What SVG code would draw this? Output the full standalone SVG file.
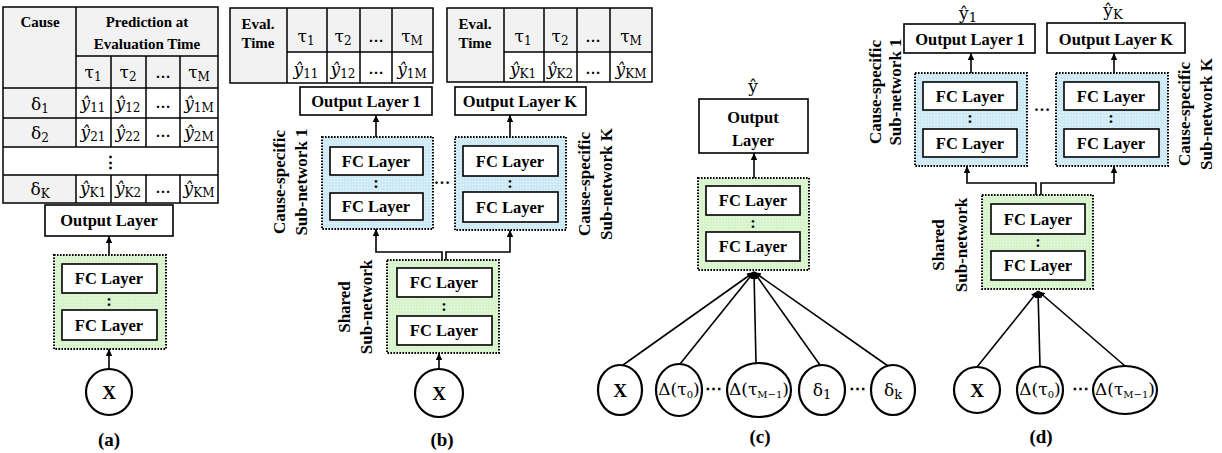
<svg xmlns="http://www.w3.org/2000/svg" width="1222" height="453" viewBox="0 0 1222 453">
<style>
.bx{fill:#fff;stroke:#000;stroke-width:1.6}
.gr{fill:url(#pg);stroke:#000;stroke-width:2;stroke-dasharray:1.6 1.4}
.bl{fill:url(#pb);stroke:#000;stroke-width:2;stroke-dasharray:1.6 1.4}
.cir{fill:#fff;stroke:#000;stroke-width:2.2}
.gc{fill:#f2f2f2}
.tl{stroke:#000;stroke-width:1.5;fill:none}
.ln{stroke:#000;stroke-width:1.6;fill:none}
.t{font-family:"Liberation Serif",serif;font-weight:bold;font-size:16.5px;text-anchor:middle;fill:#000}
.ts{font-family:"Liberation Serif",serif;font-weight:bold;font-size:15px;text-anchor:middle;fill:#000}
.vt{font-family:"Liberation Serif",serif;font-weight:bold;font-size:17px;text-anchor:middle;fill:#000}
.m{font-family:"DejaVu Serif",serif;font-size:17px;text-anchor:middle;fill:#000}
.cap{font-family:"Liberation Serif",serif;font-weight:bold;font-size:19px;text-anchor:middle;fill:#000}
</style>
<defs>
<marker id="arr" markerWidth="8" markerHeight="8" refX="7" refY="4" orient="auto" markerUnits="userSpaceOnUse"><path d="M0,0.8 L7,4 L0,7.2 z" fill="#000"/></marker>
<pattern id="pg" width="3" height="3" patternUnits="userSpaceOnUse"><rect width="3" height="3" fill="#d6f3cc"/><rect x="1" y="1" width="1" height="1" fill="#f2fcef"/></pattern>
<pattern id="pb" width="3" height="3" patternUnits="userSpaceOnUse"><rect width="3" height="3" fill="#cde9f6"/><rect x="1" y="1" width="1" height="1" fill="#eef8fd"/></pattern>
</defs>

<!-- ===== (a) ===== -->
<g id="table-a">
<rect x="3" y="7" width="215" height="196" fill="#fff"/>
<rect class="gc" x="3" y="7" width="73" height="140"/>
<rect class="gc" x="3" y="175" width="73" height="28"/>
<rect class="gc" x="76" y="7" width="142" height="81"/>
<rect class="tl" x="3" y="7" width="215" height="196"/>
<path class="tl" d="M76,7V147M76,175V203M76,56H218M3,88H218M3,118H218M3,147H218M3,175H218M111,56V147M146,56V147M180,56V147M111,175V203M146,175V203M180,175V203"/>
<text class="ts" x="40" y="27">Cause</text>
<text class="ts" x="147" y="27">Prediction at</text>
<text class="ts" x="147" y="49">Evaluation Time</text>
<text class="m" x="93" y="78">τ<tspan font-size="12" dy="3">1</tspan></text>
<text class="m" x="128" y="78">τ<tspan font-size="12" dy="3">2</tspan></text>
<text class="ts" x="163" y="78">…</text>
<text class="m" x="199" y="78">τ<tspan font-size="12" dy="3">M</tspan></text>
<text class="m" x="40" y="110">δ<tspan font-size="12" dy="3">1</tspan></text>
<text class="m" x="40" y="139">δ<tspan font-size="12" dy="3">2</tspan></text>
<text class="m" x="40" y="195">δ<tspan font-size="12" dy="3">K</tspan></text>
<text class="m" x="93" y="109"><tspan font-style="italic">ŷ</tspan><tspan font-size="12" dy="3">11</tspan></text>
<text class="m" x="128" y="109"><tspan font-style="italic">ŷ</tspan><tspan font-size="12" dy="3">12</tspan></text>
<text class="ts" x="163" y="108" font-size="12">…</text>
<text class="m" x="199" y="109"><tspan font-style="italic">ŷ</tspan><tspan font-size="12" dy="3">1M</tspan></text>
<text class="m" x="93" y="138"><tspan font-style="italic">ŷ</tspan><tspan font-size="12" dy="3">21</tspan></text>
<text class="m" x="128" y="138"><tspan font-style="italic">ŷ</tspan><tspan font-size="12" dy="3">22</tspan></text>
<text class="ts" x="163" y="137" font-size="12">…</text>
<text class="m" x="199" y="138"><tspan font-style="italic">ŷ</tspan><tspan font-size="12" dy="3">2M</tspan></text>
<text class="t" x="110" y="168">⋮</text>
<text class="m" x="93" y="194"><tspan font-style="italic">ŷ</tspan><tspan font-size="12" dy="3">K1</tspan></text>
<text class="m" x="128" y="194"><tspan font-style="italic">ŷ</tspan><tspan font-size="12" dy="3">K2</tspan></text>
<text class="ts" x="163" y="193" font-size="12">…</text>
<text class="m" x="199" y="194"><tspan font-style="italic">ŷ</tspan><tspan font-size="12" dy="3">KM</tspan></text>
</g>
<g id="out-a"><rect class="bx" x="45" y="205" width="128" height="31"/><text class="t" x="109" y="226">Output Layer</text></g>
<g id="shared-a">
<rect class="gr" x="54" y="255" width="112" height="94"/>
<rect class="bx" x="62" y="264" width="95" height="29"/><text class="t" x="109" y="284">FC Layer</text>
<text class="t" x="109" y="306">:</text>
<rect class="bx" x="62" y="310" width="95" height="30"/><text class="t" x="109" y="331">FC Layer</text>
</g>
<g id="x-a"><circle class="cir" cx="109" cy="392" r="23"/><text class="cap" x="109" y="399">X</text></g>
<text class="cap" x="109" y="446">(a)</text>

<!-- ===== (b) ===== -->
<g id="table-b1">
<rect class="gc" x="230" y="8" width="203" height="44"/>
<rect class="gc" x="230" y="8" width="57" height="75"/>
<rect x="287" y="52" width="146" height="31" fill="#fff"/>
<rect class="tl" x="230" y="8" width="203" height="75"/>
<path class="tl" d="M287,8V83M287,52H433M327,8V83M360,8V83M392,8V83"/>
<text class="ts" x="258" y="29">Eval.</text>
<text class="ts" x="258" y="48">Time</text>
<text class="m" x="306" y="42">τ<tspan font-size="12" dy="3">1</tspan></text>
<text class="m" x="343" y="42">τ<tspan font-size="12" dy="3">2</tspan></text>
<text class="ts" x="376" y="42">…</text>
<text class="m" x="412" y="42">τ<tspan font-size="12" dy="3">M</tspan></text>
<text class="m" x="306" y="75"><tspan font-style="italic">ŷ</tspan><tspan font-size="12" dy="3">11</tspan></text>
<text class="m" x="343" y="75"><tspan font-style="italic">ŷ</tspan><tspan font-size="12" dy="3">12</tspan></text>
<text class="ts" x="376" y="74" font-size="12">…</text>
<text class="m" x="412" y="75"><tspan font-style="italic">ŷ</tspan><tspan font-size="12" dy="3">1M</tspan></text>
</g>
<g id="table-b2">
<rect class="gc" x="447" y="8" width="205" height="44"/>
<rect class="gc" x="447" y="8" width="57" height="74"/>
<rect x="504" y="52" width="148" height="30" fill="#fff"/>
<rect class="tl" x="447" y="8" width="205" height="74"/>
<path class="tl" d="M504,8V82M504,52H652M544,8V82M577,8V82M610,8V82"/>
<text class="ts" x="475" y="29">Eval.</text>
<text class="ts" x="475" y="48">Time</text>
<text class="m" x="523" y="42">τ<tspan font-size="12" dy="3">1</tspan></text>
<text class="m" x="560" y="42">τ<tspan font-size="12" dy="3">2</tspan></text>
<text class="ts" x="593" y="42">…</text>
<text class="m" x="631" y="42">τ<tspan font-size="12" dy="3">M</tspan></text>
<text class="m" x="523" y="75"><tspan font-style="italic">ŷ</tspan><tspan font-size="12" dy="3">K1</tspan></text>
<text class="m" x="560" y="75"><tspan font-style="italic">ŷ</tspan><tspan font-size="12" dy="3">K2</tspan></text>
<text class="ts" x="593" y="74" font-size="12">…</text>
<text class="m" x="631" y="75"><tspan font-style="italic">ŷ</tspan><tspan font-size="12" dy="3">KM</tspan></text>
</g>
<g id="out-b1"><rect class="bx" x="300" y="87" width="132" height="28"/><text class="t" x="366" y="107">Output Layer 1</text></g>
<g id="out-bK"><rect class="bx" x="455" y="87" width="131" height="28"/><text class="t" x="520" y="107">Output Layer K</text></g>
<g id="cs-b1">
<rect class="bl" x="322" y="137" width="111" height="92"/>
<rect class="bx" x="330" y="147" width="93" height="28"/><text class="t" x="376" y="167">FC Layer</text>
<text class="t" x="376" y="188">:</text>
<rect class="bx" x="330" y="193" width="93" height="27"/><text class="t" x="376" y="212">FC Layer</text>
</g>
<text class="t" x="442" y="184">…</text>
<g id="cs-bK">
<rect class="bl" x="455" y="137" width="111" height="93"/>
<rect class="bx" x="463" y="146" width="95" height="30"/><text class="t" x="510" y="167">FC Layer</text>
<text class="t" x="510" y="188">:</text>
<rect class="bx" x="463" y="192" width="95" height="30"/><text class="t" x="510" y="213">FC Layer</text>
</g>
<g id="shared-b">
<rect class="gr" x="387" y="260" width="112" height="93"/>
<rect class="bx" x="397" y="268" width="95" height="29"/><text class="t" x="444" y="288">FC Layer</text>
<text class="t" x="444" y="311">:</text>
<rect class="bx" x="397" y="316" width="95" height="29"/><text class="t" x="444" y="336">FC Layer</text>
</g>
<g id="x-b"><circle class="cir" cx="439" cy="393" r="24"/><text class="cap" x="439" y="400">X</text></g>
<g id="labels-b">
<text class="vt" transform="translate(285,182) rotate(-90)">Cause-specific</text>
<text class="vt" transform="translate(307,182) rotate(-90)">Sub-network 1</text>
<text class="vt" transform="translate(590,184) rotate(-90)">Cause-specific</text>
<text class="vt" transform="translate(612,184) rotate(-90)">Sub-network K</text>
<text class="vt" transform="translate(350,307) rotate(-90)">Shared</text>
<text class="vt" transform="translate(372,307) rotate(-90)">Sub-network</text>
</g>
<text class="cap" x="442" y="446">(b)</text>

<!-- ===== (c) ===== -->
<text class="m" x="753" y="92" font-size="19">ŷ</text>
<g id="out-c"><rect class="bx" x="699" y="99" width="109" height="54"/><text class="t" x="753" y="123">Output</text><text class="t" x="753" y="146">Layer</text></g>
<g id="shared-c">
<rect class="gr" x="698" y="178" width="111" height="92"/>
<rect class="bx" x="706" y="186" width="94" height="29"/><text class="t" x="753" y="206">FC Layer</text>
<text class="t" x="753" y="228">:</text>
<rect class="bx" x="706" y="232" width="94" height="29"/><text class="t" x="753" y="252">FC Layer</text>
</g>
<g id="x-c"><ellipse class="cir" cx="620" cy="390" rx="22" ry="25"/><text class="cap" x="620" y="397">X</text></g>
<g id="d0-c"><ellipse class="cir" cx="679" cy="390" rx="23" ry="26"/><text class="m" x="679" y="395" font-size="15">Δ(τ<tspan font-size="10" dy="3">0</tspan><tspan dy="-3">)</tspan></text></g>
<text class="t" x="713" y="394">⋯</text>
<g id="dm-c"><ellipse class="cir" cx="759" cy="390" rx="32" ry="27"/><text class="m" x="759" y="395" font-size="15">Δ(τ<tspan font-size="10" dy="3">M−1</tspan><tspan dy="-3">)</tspan></text></g>
<g id="del1-c"><ellipse class="cir" cx="822" cy="390" rx="23" ry="25"/><text class="m" x="822" y="396" font-size="18">δ<tspan font-size="13" dy="3">1</tspan></text></g>
<text class="t" x="857" y="394">⋯</text>
<g id="delk-c"><ellipse class="cir" cx="893" cy="390" rx="22" ry="25"/><text class="m" x="893" y="396" font-size="18">δ<tspan font-size="13" dy="3">k</tspan></text></g>
<text class="cap" x="760" y="443">(c)</text>

<!-- ===== (d) ===== -->
<text class="m" x="968" y="19" font-size="19">ŷ<tspan font-size="13" dy="3">1</tspan></text>
<text class="m" x="1113" y="16" font-size="19">ŷ<tspan font-size="13" dy="3">K</tspan></text>
<g id="out-d1"><rect class="bx" x="904" y="24" width="131" height="29"/><text class="t" x="970" y="45">Output Layer 1</text></g>
<g id="out-dK"><rect class="bx" x="1047" y="23" width="138" height="30"/><text class="t" x="1116" y="45">Output Layer K</text></g>
<g id="cs-d1">
<rect class="bl" x="915" y="73" width="112" height="93"/>
<rect class="bx" x="923" y="82" width="94" height="28"/><text class="t" x="970" y="102">FC Layer</text>
<text class="t" x="970" y="123">:</text>
<rect class="bx" x="923" y="129" width="94" height="28"/><text class="t" x="970" y="149">FC Layer</text>
</g>
<text class="t" x="1042" y="111">…</text>
<g id="cs-dK">
<rect class="bl" x="1056" y="73" width="112" height="93"/>
<rect class="bx" x="1064" y="82" width="95" height="28"/><text class="t" x="1111" y="102">FC Layer</text>
<text class="t" x="1111" y="123">:</text>
<rect class="bx" x="1064" y="129" width="95" height="28"/><text class="t" x="1111" y="149">FC Layer</text>
</g>
<g id="shared-d">
<rect class="gr" x="982" y="195" width="111" height="94"/>
<rect class="bx" x="991" y="204" width="94" height="30"/><text class="t" x="1038" y="225">FC Layer</text>
<text class="t" x="1038" y="247">:</text>
<rect class="bx" x="991" y="251" width="94" height="29"/><text class="t" x="1038" y="271">FC Layer</text>
</g>
<g id="x-d"><ellipse class="cir" cx="977" cy="390" rx="23" ry="23"/><text class="cap" x="977" y="397">X</text></g>
<g id="d0-d"><ellipse class="cir" cx="1040" cy="390" rx="23" ry="23.5"/><text class="m" x="1040" y="395" font-size="15">Δ(τ<tspan font-size="10" dy="3">0</tspan><tspan dy="-3">)</tspan></text></g>
<text class="t" x="1080" y="394">⋯</text>
<g id="dm-d"><ellipse class="cir" cx="1125" cy="390" rx="32" ry="24"/><text class="m" x="1125" y="395" font-size="15">Δ(τ<tspan font-size="10" dy="3">M−1</tspan><tspan dy="-3">)</tspan></text></g>
<g id="labels-d">
<text class="vt" transform="translate(881,92) rotate(-90)">Cause-specific</text>
<text class="vt" transform="translate(901,92) rotate(-90)">Sub-network 1</text>
<text class="vt" transform="translate(1190,114) rotate(-90)">Cause-specific</text>
<text class="vt" transform="translate(1212,114) rotate(-90)">Sub-network K</text>
<text class="vt" transform="translate(944,245) rotate(-90)">Shared</text>
<text class="vt" transform="translate(967,245) rotate(-90)">Sub-network</text>
</g>
<text class="cap" x="1041" y="443">(d)</text>

<!-- ===== connectors ===== -->
<g id="connectors">
<path class="ln" d="M109,369V349" marker-end="url(#arr)"/>
<path class="ln" d="M109,255V236" marker-end="url(#arr)"/>
<path class="ln" d="M439,369V353" marker-end="url(#arr)"/>
<path class="ln" d="M442,260V252H376V229" marker-end="url(#arr)"/>
<path class="ln" d="M446,260V252H510V230" marker-end="url(#arr)"/>
<path class="ln" d="M376,137V115" marker-end="url(#arr)"/>
<path class="ln" d="M510,137V115" marker-end="url(#arr)"/>
<path class="ln" d="M754,178V153" marker-end="url(#arr)"/>
<path class="ln" d="M623,365L754,272" marker-end="url(#arr)"/>
<path class="ln" d="M680,364L754,272" marker-end="url(#arr)"/>
<path class="ln" d="M756,363L754,272" marker-end="url(#arr)"/>
<path class="ln" d="M820,365L754,272" marker-end="url(#arr)"/>
<path class="ln" d="M888,366L754,272" marker-end="url(#arr)"/>
<path class="ln" d="M971,73V53" marker-end="url(#arr)"/>
<path class="ln" d="M1114,73V53" marker-end="url(#arr)"/>
<path class="ln" d="M1036,195V183H967V166" marker-end="url(#arr)"/>
<path class="ln" d="M1041,195V183H1114V166" marker-end="url(#arr)"/>
<path class="ln" d="M977,367L1038,291" marker-end="url(#arr)"/>
<path class="ln" d="M1040,366L1038,291" marker-end="url(#arr)"/>
<path class="ln" d="M1125,366L1038,291" marker-end="url(#arr)"/>
</g>
</svg>
